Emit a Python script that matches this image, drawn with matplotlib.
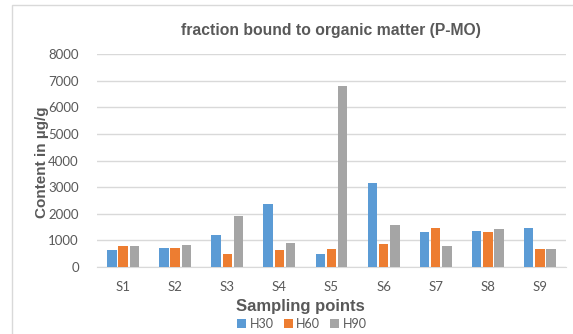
import numpy as np
import matplotlib
matplotlib.use("Agg")
import matplotlib.pyplot as plt
from matplotlib.patches import Rectangle

# P-MO fraction, content in µg/g per sampling point
points = ["S1", "S2", "S3", "S4", "S5", "S6", "S7", "S8", "S9"]
h30 = [650, 700, 1220, 2370, 480, 3150, 1330, 1360, 1450]
h60 = [800, 700, 480, 630, 680, 860, 1450, 1330, 660]
h90 = [780, 820, 1920, 900, 6800, 1570, 780, 1430, 660]
series_names = ["H30", "H60", "H90"]
colors = ["#5B9BD5", "#ED7D31", "#A5A5A5"]
yticks = [0, 1000, 2000, 3000, 4000, 5000, 6000, 7000, 8000]

txt = "#595959"
fig = plt.figure(figsize=(5.73, 3.34), dpi=100)
ax = fig.add_axes([97 / 573, 1 - 267 / 334, (566 - 97) / 573, (267 - 54) / 334])

# light frame round the chart area
fig.patches.append(Rectangle((12 / 573, -0.1), 1.2, 1 - 5 / 334 + 0.1,
                             transform=fig.transFigure, fill=False,
                             edgecolor="#D9D9D9", linewidth=1.0))

x = np.arange(len(points))
w = 0.18
step = 0.215
for i, (vals, name, c) in enumerate(zip([h30, h60, h90], series_names, colors)):
    ax.bar(x + (i - 1) * step, vals, width=w, color=c, label=name, zorder=3)

ax.set_xlim(-0.5, len(points) - 0.5)
ax.set_ylim(0, 8000)
ax.set_yticks(yticks)
ax.set_xticks(x)
ax.set_xticklabels(points)
ax.grid(axis="y", color="#D9D9D9", linewidth=1.0, zorder=0)
for s in ["top", "right", "left"]:
    ax.spines[s].set_visible(False)
ax.spines["bottom"].set_color("#D9D9D9")
ax.tick_params(length=0, labelsize=9.5, labelcolor=txt)
ax.tick_params(axis="y", pad=13)
ax.tick_params(axis="x", pad=10)
for lab in ax.get_xticklabels() + ax.get_yticklabels():
    lab.set_family("Lato")

fig.text(331 / 573, 1 - 30 / 334, "fraction bound to organic matter (P-MO)",
         ha="center", va="center", fontsize=11.3, fontweight="bold",
         color=txt, family="Liberation Sans")
fig.text(42 / 573, 1 - 162 / 334, "Content in µg/g", rotation=90,
         ha="center", va="center", fontsize=11, fontweight="bold",
         color=txt, family="Liberation Sans")
fig.text(300 / 573, 1 - 307 / 334, "Sampling points", ha="center", va="center",
         fontsize=12, fontweight="bold", color=txt, family="Liberation Sans")

fig.legend(loc="center", bbox_to_anchor=(302 / 573, 1 - 324 / 334), ncol=3,
           frameon=False, prop={"family": "Lato", "size": 9},
           labelcolor=txt, handlelength=0.7, handleheight=0.7,
           handletextpad=0.3, columnspacing=0.8, borderpad=0)

fig.savefig("out.png", dpi=100)
